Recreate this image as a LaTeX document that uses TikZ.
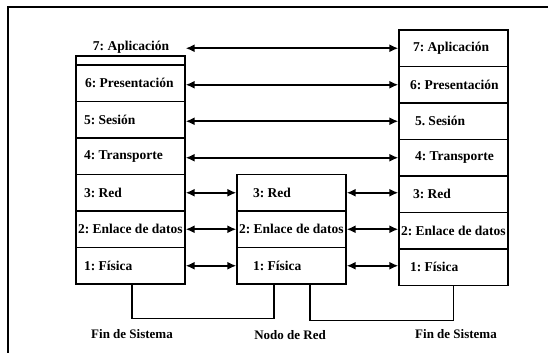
\documentclass[tikz,border=0pt]{standalone}
\usepackage{fontspec}
\setmainfont{Liberation Serif}
\usetikzlibrary{arrows.meta}
\frenchspacing
\newcommand\layertext[2]{\makebox[105pt][l]{\hspace*{#1}#2}}
\begin{document}
\begin{tikzpicture}[x=1pt,y=-1pt,
  txt/.style={font=\fontsize{13.5}{16}\selectfont\bfseries},
  layer/.style={txt, draw, line width=1.4pt, minimum height=36.5pt, minimum width=109pt,
    inner xsep=2pt, inner ysep=0pt},
  lbl/.style={txt, inner sep=0pt},
  captionlbl/.style={font=\fontsize{13}{15}\selectfont\bfseries, inner sep=0pt},
  link/.style={line width=1.6pt, {Latex[length=9pt,width=8pt]}-{Latex[length=9pt,width=8pt]}},
  bracket/.style={line width=1.3pt},
  frame/.style={line width=1.4pt}]
\useasboundingbox (0,0) rectangle (548,353);
% frame (top and left only)
\coordinate (ftr) at (548,7);
\coordinate (ftl) at (8,7);
\coordinate (fbl) at (8,353);
\draw[frame] (ftr) -- (ftl) -- (fbl);
% left end system
\node[lbl] (l7) at (131,47) {7: Aplicación};
\node[draw, line width=1.4pt, minimum width=109pt, minimum height=9pt, inner sep=0pt] (l7box) at (130.5,60.5) {};
\node[layer] (l6) at (130.5,83.25) {\layertext{7pt}{6: Presentación}};
\node[layer] (l5) at (130.5,119.75) {\layertext{6pt}{5: Sesión}};
\node[layer] (l4) at (130.5,156.25) {\layertext{6pt}{4: Transporte}};
\node[layer] (l3) at (130.5,192.75) {\layertext{6pt}{3: Red}};
\node[layer] (l2) at (130.5,229.25) {\layertext{0pt}{2: Enlace de datos}};
\node[layer] (l1) at (130.5,265.75) {\layertext{6pt}{1: Física}};
% network node
\node[layer] (m3) at (291.5,192.75) {\layertext{14pt}{3: Red}};
\node[layer] (m2) at (291.5,229.25) {\layertext{0pt}{2: Enlace de datos}};
\node[layer] (m1) at (291.5,265.75) {\layertext{14pt}{1: Física}};
% right end system
\node[layer] (r7) at (453.5,48.25) {\layertext{12pt}{7: Aplicación}};
\node[layer] (r6) at (453.5,84.75) {\layertext{9pt}{6: Presentación}};
\node[layer] (r5) at (453.5,121.25) {\layertext{14pt}{5. Sesión}};
\node[layer] (r4) at (453.5,157.75) {\layertext{14pt}{4: Transporte}};
\node[layer] (r3) at (453.5,194.25) {\layertext{12pt}{3: Red}};
\node[layer] (r2) at (453.5,230.75) {\layertext{0pt}{2: Enlace de datos}};
\node[layer] (r1) at (453.5,267.25) {\layertext{9pt}{1: Física}};
% peer links
\draw[link] (l7box.east |- r7) -- (r7.west);
\draw[link] (l6.east |- r6) -- (r6.west);
\draw[link] (l5.east |- r5) -- (r5.west);
\draw[link] (l4.east |- r4) -- (r4.west);
\draw[link] (l3.east) -- (m3.west);
\draw[link] (l2.east) -- (m2.west);
\draw[link] (l1.east) -- (m1.west);
\draw[link] (m3.east) -- (r3.west |- m3);
\draw[link] (m2.east) -- (r2.west |- m2);
\draw[link] (m1.east) -- (r1.west |- m1);
% brackets
\draw[bracket] ([xshift=1.5pt]l1.south) -- ++(0,34) -| ([xshift=-17.5pt]m1.south);
\draw[bracket] ([xshift=18.5pt]m1.south) -- ++(0,36) -| (r1.south);
% captions
\node[captionlbl] (c1) at (132,334) {Fin de Sistema};
\node[captionlbl] (c2) at (290,335) {Nodo de Red};
\node[captionlbl] (c3) at (456,334) {Fin de Sistema};
\end{tikzpicture}
\end{document}
